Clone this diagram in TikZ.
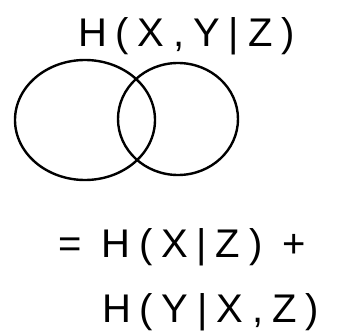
\documentclass[tikz,border=0pt]{standalone}
\usepackage{fontspec}
\setmainfont{Liberation Sans}
\usetikzlibrary{shapes.geometric}
\begin{document}
\begin{tikzpicture}[x=1pt,y=-1pt,
  hand/.style={anchor=base west, inner sep=0pt, font=\fontsize{40}{40}\selectfont\addfontfeature{LetterSpace=22}},
  blob/.style={draw, line width=2.4pt, ellipse, inner sep=0pt}]
\useasboundingbox (0,0) rectangle (338,332);
\node[hand] (t) at (78,46) {H(X,Y|Z)};
\node[blob, minimum width=140, minimum height=120] (a) at (85,120) {};
\node[blob, minimum width=120, minimum height=112] (b) at (178,119) {};
\node[hand] (l1) at (58,257) {= H(X|Z) +};
\node[hand] (l2) at (102,322) {H(Y|X,Z)};
\end{tikzpicture}
\end{document}
